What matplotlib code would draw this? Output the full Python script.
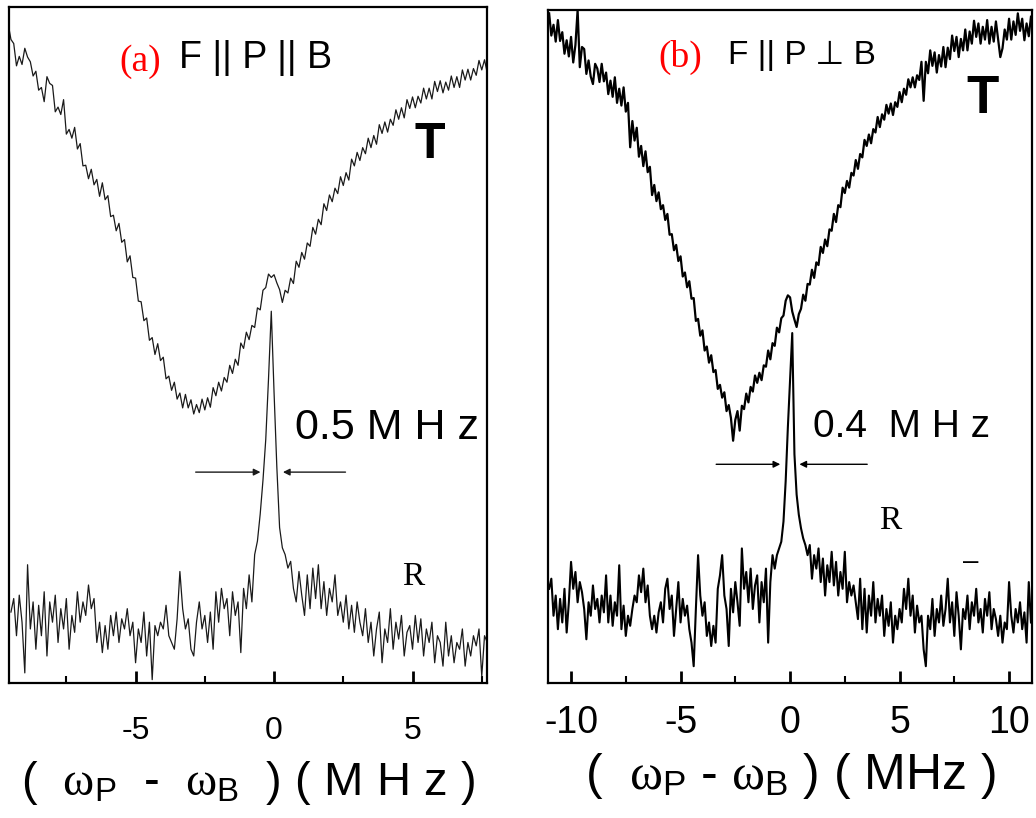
import numpy as np
import matplotlib
matplotlib.use("Agg")
import matplotlib.pyplot as plt
from matplotlib.ticker import FixedLocator

plt.rcParams['font.family'] = ['Liberation Sans', 'DejaVu Sans']
plt.rcParams['mathtext.fontset'] = 'custom'
plt.rcParams['mathtext.rm'] = 'Liberation Sans'
plt.rcParams['mathtext.it'] = 'Liberation Serif'
plt.rcParams['mathtext.sf'] = 'Liberation Sans'

# ---------------- data : panel (a)  (sampled every 0.1 MHz) ----------------
a_T_start, a_T_step = -9.6, 0.1
a_T_y = [97.5, 95.2, 94.6, 91.3, 92.7, 91.5, 93.9, 92.6, 91.9, 89.8,
         90.5, 87.7, 88.1, 86.0, 89.7, 88.7, 88.4, 84.5, 85.2, 84.1,
         86.3, 81.2, 81.9, 80.6, 82.2, 79.0, 79.8, 76.5, 76.6, 74.6,
         76.0, 73.7, 74.5, 72.0, 74.0, 71.5, 72.1, 69.0, 69.2, 66.9,
         68.0, 65.2, 65.6, 62.3, 63.2, 60.0, 59.9, 56.5, 56.4, 53.6,
         54.0, 50.7, 51.1, 48.6, 50.2, 47.7, 48.2, 45.0, 45.4, 43.3,
         44.5, 42.0, 42.9, 40.7, 42.7, 40.7, 41.9, 39.8, 41.2, 40.0,
         42.0, 40.4, 42.2, 40.8, 43.7, 42.5, 44.5, 43.2, 45.2, 44.5,
         47.0, 45.8, 47.9, 47.0, 50.3, 49.5, 51.9, 50.8, 52.9, 52.6,
         55.5, 55.2, 58.1, 58.5, 60.5, 60.0, 60.4, 59.2, 58.2, 56.3,
         58.1, 57.7, 59.9, 59.1, 62.4, 61.5, 63.7, 62.7, 65.1, 64.6,
         67.4, 66.4, 68.6, 67.8, 70.9, 69.9, 72.2, 71.2, 73.2, 72.4,
         74.9, 73.6, 75.5, 74.4, 77.5, 76.5, 78.5, 77.3, 79.2, 78.3,
         80.6, 79.2, 81.0, 79.7, 82.6, 81.3, 83.0, 81.5, 83.4, 82.5,
         84.8, 83.4, 85.1, 83.6, 86.3, 85.0, 86.7, 85.1, 86.8, 85.8,
         88.0, 86.4, 88.0, 86.4, 89.0, 87.5, 89.1, 87.3, 88.9, 87.7,
         89.8, 88.1, 89.7, 88.1, 90.7, 89.2, 90.8, 89.2, 90.9, 89.9,
         92.1, 90.7, 92.2, 90.2]

a_R_start, a_R_step = -9.5, 0.1
a_R_y = [10.5, 12.5, 7, 13, 9, 1.5, 17.5, 8, 12, 5,
         11.5, 7, 13.5, 4, 12, 9, 13, 6, 11, 8,
         12.5, 5, 10, 7.5, 13.5, 9, 12, 10, 14.5, 11,
         12.5, 6, 9, 4.5, 8.5, 5, 10, 7, 10.5, 6,
         9.5, 8, 11, 7, 9, 3, 8, 6, 10.5, 4,
         9, 0.5, 8.5, 7, 9, 8, 11.5, 7, 6, 5,
         9.5, 16.5, 11, 8, 9.5, 5, 4, 9, 12, 8,
         10, 6, 10.5, 5, 13.5, 9, 14, 11, 12.5, 7,
         13.5, 10, 12, 4.5, 14, 11, 16, 12, 19, 21,
         25, 30, 36, 45, 55, 43, 32, 23, 20, 19,
         17, 18, 14, 12, 16.5, 13, 10, 16, 11, 17,
         12.5, 17.5, 11, 15, 10, 14, 12, 16, 10, 12,
         9, 13, 8, 11.5, 7.5, 12, 9, 7, 11, 6,
         9, 4, 8, 10.5, 3, 8, 6, 11, 5, 9,
         6.5, 10, 4, 7.5, 8.5, 5, 10, 6, 9.5, 4,
         8, 6, 9, 3, 7, 6, 2.5, 9, 4, 7,
         3, 6, 5, 8, 2.5, 6, 4, 7, 5.5, 8,
         1, 7, 6]

# ---------------- data : panel (b)  (sampled every 0.1 MHz) ----------------
b_T_start, b_T_step = -11.0, 0.1
b_T_y = [99.5, 96.2, 97.8, 95.3, 98.5, 95.4, 96.7, 93.5, 95.5, 93.1,
         96.0, 92.2, 94.8, 100.0, 91.5, 94.5, 94.2, 90.5, 92.5, 90.1,
         89.0, 92.0, 91.3, 89.3, 92.0, 89.4, 90.7, 87.5, 89.5, 87.1,
         90.0, 86.2, 88.3, 85.8, 88.5, 84.9, 86.2, 79.6, 83.5, 80.6,
         82.5, 78.2, 79.8, 76.8, 79.0, 75.9, 76.7, 72.5, 74.0, 71.6,
         72.9, 70.4, 71.0, 68.8, 69.7, 66.6, 66.7, 64.3, 65.1, 62.7,
         63.4, 60.4, 61.0, 58.8, 59.7, 57.1, 57.2, 53.8, 54.1, 51.6,
         52.4, 49.4, 50.0, 47.6, 48.7, 46.2, 46.5, 43.7, 44.3, 42.4,
         43.2, 40.4, 41.3, 39.4, 36.0, 39.1, 40.4, 37.5, 41.2, 40.7,
         43.0, 41.7, 44.0, 43.3, 45.7, 44.6, 46.1, 45.0, 47.2, 47.0,
         49.4, 48.1, 50.5, 50.1, 52.8, 52.1, 54.2, 54.6, 56.8, 57.6,
         57.3, 55.2, 54.0, 52.9, 54.8, 55.6, 57.7, 56.8, 59.3, 59.2,
         61.4, 60.2, 62.5, 62.1, 64.8, 63.9, 65.9, 64.9, 67.4, 67.2,
         69.7, 68.5, 71.0, 70.7, 73.6, 72.8, 74.6, 73.6, 75.8, 75.4,
         77.7, 76.4, 78.6, 78.1, 80.7, 79.8, 81.5, 80.2, 82.3, 81.8,
         84.1, 82.6, 84.5, 83.7, 85.9, 84.6, 86.1, 84.4, 86.3, 85.6,
         87.8, 86.3, 88.3, 87.4, 89.7, 88.5, 90.0, 88.5, 90.3, 89.6,
         92.3, 86.5, 92.3, 90.6, 94.0, 91.7, 93.7, 90.7, 93.3, 91.6,
         94.5, 91.5, 94.4, 92.7, 96.2, 93.9, 96.0, 93.0, 95.7, 94.0,
         97.1, 94.0, 96.8, 95.0, 98.4, 96.0, 98.0, 95.0, 97.5, 95.6,
         98.5, 95.0, 97.5, 95.3, 98.3, 95.6, 93.0, 94.3, 97.1, 95.6,
         98.7, 95.6, 98.3, 96.3, 99.5, 96.9, 98.7, 95.5, 98.0, 96.1,
         99.0]

b_R_start, b_R_step = -11.0, 0.1
b_R_y = [14, 15.5, 10, 13, 8, 12.5, 9, 14, 7.5, 12,
         18, 14, 16.5, 12, 15, 13.5, 11, 6.5, 12, 10,
         14.5, 11, 12.5, 9, 13, 10.5, 16, 9, 13, 8.5,
         12, 10, 17.5, 8, 11.5, 7, 10, 8.5, 11, 13,
         12, 16, 13.5, 17, 12, 14.5, 10, 8, 10, 7.5,
         10.5, 12, 9, 14, 15.5, 11, 13, 7, 11, 15,
         9, 12.5, 10, 11.5, 8, 6, 2.5, 11, 19, 13,
         10, 12, 7, 9, 5.5, 8.5, 6, 14, 16, 19,
         13, 11, 5.5, 14, 10.5, 15, 12, 8.5, 20, 14,
         16.5, 12, 17, 11, 14.5, 16, 9, 15, 12, 17,
         6, 15, 19, 17, 19, 20, 21, 24, 30, 38,
         45, 52, 34, 28, 25, 23, 21.5, 20.5, 19, 20.5,
         15.5, 19, 17, 20, 15, 18.5, 13, 17.5, 15, 19.5,
         14.5, 18, 13, 16.5, 14, 19.5, 12, 15, 13, 14.5,
         12, 9.5, 15.5, 8, 14, 7.5, 13, 10, 15, 9,
         12.5, 10, 13, 7, 11, 8.5, 12, 6, 10, 8,
         11, 9, 14, 11, 15.5, 10, 13, 7.5, 11.5, 9,
         10, 5, 2.5, 10, 8, 12.5, 7, 11, 9, 13,
         8.5, 11, 15.5, 9, 12, 7, 13.5, 10, 5, 11,
         9.5, 13, 8, 12, 10, 14, 9, 11, 7.5, 12.5,
         10, 13.5, 8, 11, 9.5, 7, 10, 6, 9, 8,
         15, 10, 7.5, 11, 9, 12, 8, 10.5, 6, 15,
         9]

a_xlim = (-9.57, 7.69)
b_xlim = (-11.05, 11.05)
a_major = [-5, 0, 5]
a_minor = [-7.5, -2.5, 2.5, 7.5]
b_major = [-10, -5, 0, 5, 10]
b_minor = [-7.5, -2.5, 2.5, 7.5]

# ---------------- figure ----------------
fig = plt.figure(figsize=(10.36, 8.18), dpi=100)
ax1 = fig.add_axes([0.0087, 0.165, 0.4614, 0.8264])
ax2 = fig.add_axes([0.529, 0.165, 0.4672, 0.8228])

a_T_x = a_T_start + a_T_step * np.arange(len(a_T_y))
a_R_x = a_R_start + a_R_step * np.arange(len(a_R_y))
b_T_x = b_T_start + b_T_step * np.arange(len(b_T_y))
b_R_x = b_R_start + b_R_step * np.arange(len(b_R_y))

ax1.plot(a_T_x, a_T_y, color='#1a1a1a', lw=0.9)
ax1.plot(a_R_x, a_R_y, color='#1a1a1a', lw=0.9)
ax2.plot(b_T_x, b_T_y, color='black', lw=1.6)
ax2.plot(b_R_x, b_R_y, color='black', lw=1.5)

for ax, xl, maj, mnr, lsize, lpad in [(ax1, a_xlim, a_major, a_minor, 23, 24),
                                      (ax2, b_xlim, b_major, b_minor, 27, 16)]:
    ax.set_xlim(*xl)
    ax.set_ylim(0, 100)
    ax.set_yticks([])
    ax.xaxis.set_major_locator(FixedLocator(maj))
    ax.xaxis.set_minor_locator(FixedLocator(mnr))
    ax.set_xticklabels([f"{v:d}" for v in maj])
    ax.tick_params(axis='x', which='major', direction='in', length=9, width=2,
                   labelsize=lsize, pad=lpad)
    ax.tick_params(axis='x', which='minor', direction='in', length=5, width=1.5)
    for s in ax.spines.values():
        s.set_linewidth(1.6)

ax1.set_xlabel(r'(  $\omega_{\mathsf{P}}$  -  $\omega_{\mathsf{B}}$  ) ( M H z )', fontsize=34, labelpad=9)
ax2.set_xlabel(r'(  $\omega_{\mathsf{P}}$ - $\omega_{\mathsf{B}}$ ) ( MHz )', fontsize=36, labelpad=7)

# annotations panel (a)
ax1.text(-4.84, 91.9, '(a)', color='red', family='Liberation Serif', fontsize=27,
         ha='center', va='center')
ax1.text(-0.65, 92.5, 'F || P || B', fontsize=27, ha='center', va='center')
ax1.text(5.63, 79.6, 'T', fontsize=36, fontweight='bold', ha='center', va='center')
ax1.text(4.08, 37.7, '0.5 M H z', fontsize=31, ha='center', va='center')
ax1.text(5.02, 15.7, 'R', family='Liberation Serif', fontsize=24, ha='center', va='center')
ax1.annotate('', xy=(-0.39, 31.2), xytext=(-2.93, 31.2),
             arrowprops=dict(arrowstyle='-|>', lw=1.0, color='#1a1a1a', mutation_scale=10))
ax1.annotate('', xy=(0.22, 31.2), xytext=(2.68, 31.2),
             arrowprops=dict(arrowstyle='-|>', lw=1.0, color='#1a1a1a', mutation_scale=10))

# annotations panel (b)
ax2.text(-5.02, 93.0, '(b)', color='red', family='Liberation Serif', fontsize=27,
         ha='center', va='center')
ax2.text(0.55, 93.3, 'F || P \u22a5 B', family=['Liberation Sans', 'DejaVu Sans'],
         fontsize=24, ha='center', va='center')
ax2.text(8.77, 86.8, 'T', fontsize=38, fontweight='bold', ha='center', va='center')
ax2.text(5.07, 38.0, '0.4  M H z', fontsize=28, ha='center', va='center')
ax2.text(4.57, 24.1, 'R', family='Liberation Serif', fontsize=24, ha='center', va='center')
ax2.text(8.25, 18.0, '\u2013', fontsize=20, ha='center', va='center')
ax2.annotate('', xy=(-0.32, 32.5), xytext=(-3.5, 32.5),
             arrowprops=dict(arrowstyle='-|>', lw=1.0, color='black', mutation_scale=10))
ax2.annotate('', xy=(0.3, 32.5), xytext=(3.65, 32.5),
             arrowprops=dict(arrowstyle='-|>', lw=1.0, color='black', mutation_scale=10))

fig.savefig('out.png', dpi=100)
